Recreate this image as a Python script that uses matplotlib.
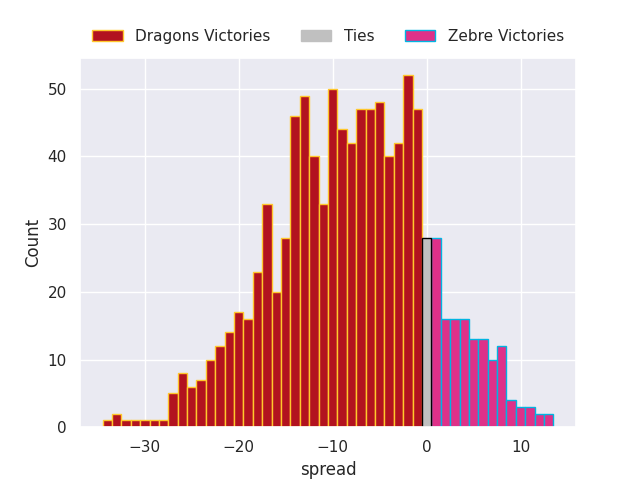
import numpy as np
import matplotlib
matplotlib.use("Agg")
import matplotlib.pyplot as plt
import seaborn as sns
from matplotlib.patches import Patch

sns.set_theme(style="darkgrid")

# margen de vitoria (spread) e contagem de jogos
dragons_spread = np.arange(-34, 0)
dragons_count = [1, 2, 1, 1, 1, 1, 1, 5, 8, 6, 7, 10, 12, 14, 17, 16, 23, 33,
                 20, 28, 46, 49, 40, 33, 50, 44, 42, 47, 47, 48, 40, 42, 52, 47]
ties_spread = [0]
ties_count = [28]
zebre_spread = np.arange(1, 14)
zebre_count = [28, 16, 16, 16, 13, 13, 10, 12, 4, 3, 3, 2, 2]

COR_DRAGONS, BORDA_DRAGONS = "#B2121F", "#FFC72C"
COR_TIES, BORDA_TIES = "#C0C0C0", "black"
COR_ZEBRE, BORDA_ZEBRE = "#DE3189", "#00B5E2"

fig, ax = plt.subplots(figsize=(6.4, 4.8), dpi=100)
ax.bar(dragons_spread, dragons_count, width=1, color=COR_DRAGONS, edgecolor=BORDA_DRAGONS, linewidth=1)
ax.bar(zebre_spread, zebre_count, width=1, color=COR_ZEBRE, edgecolor=BORDA_ZEBRE, linewidth=1)
# empates por cima, para a borda preta ficar visivel dos dois lados
ax.bar(ties_spread, ties_count, width=1, color=COR_TIES, edgecolor=BORDA_TIES, linewidth=1)

ax.set_xlabel("spread")
ax.set_ylabel("Count")

handles = [
    Patch(facecolor=COR_DRAGONS, edgecolor=BORDA_DRAGONS, label="Dragons Victories"),
    Patch(facecolor=COR_TIES, edgecolor=COR_TIES, label="Ties"),
    Patch(facecolor=COR_ZEBRE, edgecolor=BORDA_ZEBRE, label="Zebre Victories"),
]
ax.legend(handles=handles, loc="lower center", bbox_to_anchor=(0.5, 1.0), ncol=3, frameon=False)

fig.savefig("out.png")
